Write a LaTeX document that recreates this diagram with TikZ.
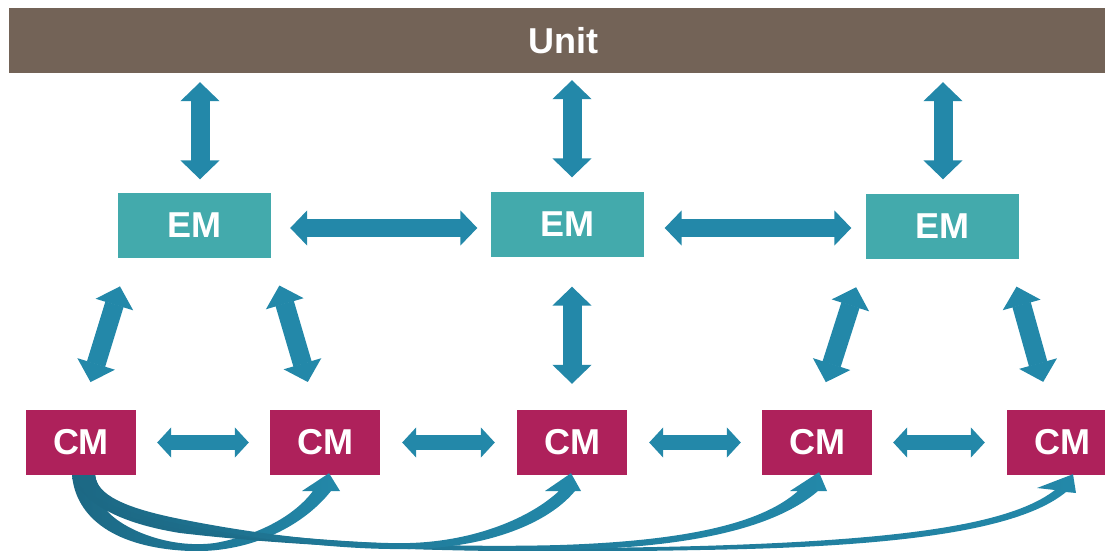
\documentclass[tikz,border=0pt]{standalone}
\usepackage{fontspec}
\setmainfont{Liberation Sans}
\usetikzlibrary{arrows.meta,calc}

\definecolor{unitbrown}{HTML}{736357}
\definecolor{emteal}{HTML}{43AAAC}
\definecolor{cmred}{HTML}{AE215B}
\definecolor{linkblue}{HTML}{2388A9}
\definecolor{linkdark}{HTML}{1C6884}

\begin{document}
\begin{tikzpicture}[x=1pt,y=-1pt,
  box/.style={rectangle, inner sep=0pt, text=white,
    font=\bfseries\fontsize{36}{40}\selectfont},
  unitbar/.style={box, fill=unitbrown, minimum width=1108pt, minimum height=65pt},
  embox/.style={box, fill=emteal, minimum width=153pt, minimum height=65pt},
  cmbox/.style={box, fill=cmred, minimum width=110pt, minimum height=65pt},
  link/.style={draw=linkblue, line width=19pt,
    {Triangle[width=39pt,length=19pt,line width=1.5pt]}-{Triangle[width=39pt,length=19pt,line width=1.5pt]}},
  hlink/.style={draw=linkblue, line width=18pt,
    {Triangle[width=35pt,length=17pt,line width=1.5pt]}-{Triangle[width=35pt,length=17pt,line width=1.5pt]}},
  cmlink/.style={draw=linkblue, line width=15pt,
    {Triangle[width=30pt,length=14pt,line width=1.5pt]}-{Triangle[width=30pt,length=14pt,line width=1.5pt]}},
  sweep/.style={left color=linkdark, right color=linkblue}
]
\useasboundingbox (0,0) rectangle (1105,551);
\clip (0,0) rectangle (1105,551);

% boxes
\node[unitbar] (unit) at (563,40.5) {Unit};
\node[embox] (em1) at (194.5,225) {EM};
\node[embox] (em2) at (567,224) {EM};
\node[embox] (em3) at (942,226) {EM};
\node[cmbox] (cm1) at (81,442.5) {CM};
\node[cmbox] (cm2) at (325,442.5) {CM};
\node[cmbox] (cm3) at (572,442.5) {CM};
\node[cmbox] (cm4) at (817,442.5) {CM};
\node[cmbox] (cm5) at (1062,442.5) {CM};

% unit <-> EM
\draw[link, shorten <=9pt, shorten >=13pt] ([xshift=5.5pt]em1.north |- unit.south) -- ([xshift=5.5pt]em1.north);
\draw[link, shorten <=7pt, shorten >=14pt] ([xshift=5pt]em2.north |- unit.south) -- ([xshift=5pt]em2.north);
\draw[link, shorten <=9pt, shorten >=14pt] ([xshift=1pt]em3.north |- unit.south) -- ([xshift=1pt]em3.north);

% EM <-> EM
\draw[hlink, shorten <=19pt, shorten >=13pt] ([yshift=-3pt]em1.east) -- ([yshift=-3pt]em1.east -| em2.west);
\draw[hlink, shorten <=21pt, shorten >=14pt] ([yshift=-4pt]em2.east) -- ([yshift=-4pt]em2.east -| em3.west);

% EM <-> CM
\draw[link, shorten <=30pt, shorten >=29pt] ([xshift=11pt]em1.south west) -- ([xshift=1pt]cm1.north);
\draw[link, shorten <=29pt, shorten >=29pt] (em1.south east) -- ([xshift=-9pt]cm2.north);
\draw[link, shorten <=30pt, shorten >=26pt] (cm3.north |- em2.south) -- (cm3.north);
\draw[link, shorten <=30pt, shorten >=29pt] (em3.south west) -- (cm4.north);
\draw[link, shorten <=29pt, shorten >=29pt] ([xshift=-10pt]em3.south east) -- ([xshift=-11pt]cm5.north);

% CM <-> CM
\draw[cmlink, shorten <=21pt, shorten >=21pt] (cm1.east) -- (cm2.west);
\draw[cmlink, shorten <=22pt, shorten >=22pt] (cm2.east) -- (cm3.west);
\draw[cmlink, shorten <=22pt, shorten >=21pt] (cm3.east) -- (cm4.west);
\draw[cmlink, shorten <=21pt, shorten >=22pt] (cm4.east) -- (cm5.west);

% sweeping arrows from the first CM to the others
% to CM 2: the broad lower sweep
\shade[sweep] ($(cm1.south)+(-9,0)$) .. controls (76,518) and (115,548) .. (190,551)
  .. controls (245,553) and (300,530) .. (331,491)
  -- (340,491) -- ($(cm2.south)+(4,-2)$) -- (302,491) -- (313,491)
  .. controls (295,515) and (260,535) .. (215,543)
  .. controls (170,549) and (125,530) .. (108,512)
  .. controls (100,500) and (96,488) .. ($(cm1.south)+(14,0)$) -- cycle;

% to CM 5
\shade[sweep] ($(cm1.south)+(-9,0)$) .. controls (85,508) and (130,525) .. (180,533)
  .. controls (350,553) and (550,553) .. (700,550)
  .. controls (900,547) and (1020,530) .. (1066,492)
  -- (1076,493) -- ($(cm5.south)+(11,-1)$) -- (1037,488) -- (1055,490)
  .. controls (1010,525) and (900,540) .. (700,546)
  .. controls (550,550) and (350,550) .. (180,527)
  .. controls (125,513) and (99,499) .. ($(cm1.south)+(14,0)$) -- cycle;

% to CM 4
\shade[sweep] ($(cm1.south)+(-9,0)$) .. controls (85,505) and (130,520) .. (180,529)
  .. controls (300,547) and (450,552) .. (560,550)
  .. controls (690,548) and (775,528) .. (818,491)
  -- (827,491) -- ($(cm4.south)+(2,-3)$) -- (790,491) -- (798,491)
  .. controls (760,525) and (680,541) .. (560,545)
  .. controls (450,548) and (300,543) .. (180,523)
  .. controls (125,510) and (98,497) .. ($(cm1.south)+(14,0)$) -- cycle;

% to CM 3
\shade[sweep] ($(cm1.south)+(-9,0)$) .. controls (85,500) and (130,514) .. (180,524)
  .. controls (260,540) and (340,550) .. (410,549)
  .. controls (480,548) and (545,527) .. (575,491)
  -- (581,491) -- ($(cm3.south)+(-1,-2)$) -- (545,491) -- (559,491)
  .. controls (530,518) and (475,541) .. (410,543)
  .. controls (340,544) and (260,535) .. (180,519)
  .. controls (125,508) and (97,495) .. ($(cm1.south)+(14,0)$) -- cycle;
\end{tikzpicture}
\end{document}
